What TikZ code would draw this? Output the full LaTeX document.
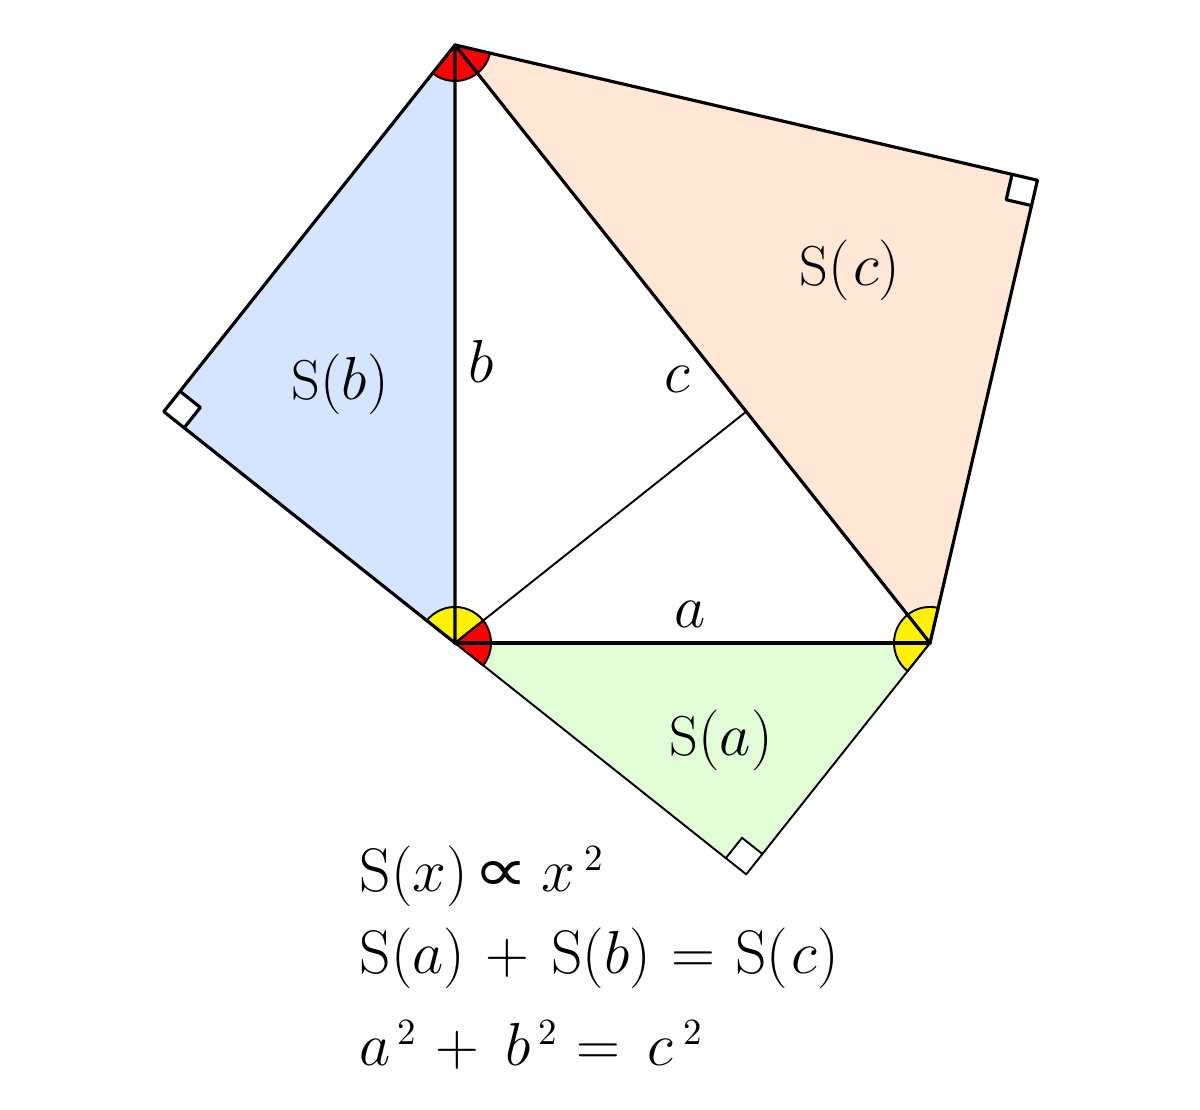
\documentclass[tikz,border=0pt]{standalone}
\usepackage{fontspec}
\usepackage{graphicx}
\newfontfamily\dejavu{DejaVu Sans}
\usetikzlibrary{calc}
\definecolor{fillb}{RGB}{213,229,255}
\definecolor{fillc}{RGB}{255,230,213}
\definecolor{filla}{RGB}{226,252,214}
\newcommand{\sqtwo}[1][2pt]{\mbox{\kern#1\raisebox{6.2pt}{\fontsize{10.5}{12}\selectfont 2}}}
\begin{document}
\begin{tikzpicture}[x=0.01cm,y=0.01cm,
  thickline/.style={line width=0.9pt, line join=round, line cap=round},
  thinline/.style={line width=0.55pt, line join=round, line cap=round},
  fan/.style={draw=black, line width=0.55pt},
  lbl/.style={inner sep=0pt, font=\fontsize{16}{19}\selectfont},
  eqn/.style={inner sep=0pt, anchor=base west, font=\fontsize{17.5}{21}\selectfont}]
\useasboundingbox (0,0) rectangle (1200,1110);
\pgfmathsetmacro\al{atan(475/598)}
\pgfmathsetmacro\be{90-\al}
% main points
\coordinate (T) at (455,1065);
\coordinate (O) at (455,467);
\coordinate (R) at (930,467);
\coordinate (F) at ($(T)!(O)!(R)$);
\coordinate (Q) at ($(O)!2!(F)$);
\coordinate (FL) at ($(O)!(F)!(T)$);
\coordinate (L) at ($(F)!2!(FL)$);
\coordinate (FB) at ($(O)!(F)!(R)$);
\coordinate (B) at ($(F)!2!(FB)$);
% fills
\fill[fillb] (T) -- (L) -- (O) -- cycle;
\fill[fillc] (T) -- (Q) -- (R) -- cycle;
\fill[filla] (O) -- (B) -- (R) -- cycle;
% right-angle marks
\coordinate (L1) at ($(L)!0.26cm!(T)$);
\coordinate (L2) at ($(L)!0.26cm!(O)$);
\coordinate (L3) at ($(L1)+(L2)-(L)$);
\coordinate (Q1) at ($(Q)!0.26cm!(T)$);
\coordinate (Q2) at ($(Q)!0.26cm!(R)$);
\coordinate (Q3) at ($(Q1)+(Q2)-(Q)$);
\coordinate (B1) at ($(B)!0.26cm!(O)$);
\coordinate (B2) at ($(B)!0.26cm!(R)$);
\coordinate (B3) at ($(B1)+(B2)-(B)$);
\fill[white] (L) -- (L1) -- (L3) -- (L2) -- cycle;
\fill[white] (Q) -- (Q1) -- (Q3) -- (Q2) -- cycle;
\fill[white] (B) -- (B1) -- (B3) -- (B2) -- cycle;
\draw[thickline] (L1) -- (L3) -- (L2);
\draw[thickline] (Q1) -- (Q3) -- (Q2);
\draw[thinline] (B1) -- (B3) -- (B2);
% angle fans
\filldraw[fill=red, fan] (T) -- ++({270-\al}:0.36cm) arc[start angle={270-\al}, end angle={270+2*\al}, radius=0.36cm] -- cycle;
\filldraw[fill=yellow, fan] (O) -- ++({\al}:0.36cm) arc[start angle={\al}, end angle={90+\be}, radius=0.36cm] -- cycle;
\filldraw[fill=red, fan] (O) -- ++({-\al}:0.36cm) arc[start angle={-\al}, end angle={\al}, radius=0.36cm] -- cycle;
\filldraw[fill=yellow, fan] (R) -- ++({180-2*\be}:0.36cm) arc[start angle={180-2*\be}, end angle={180+\be}, radius=0.36cm] -- cycle;
% edges
\draw[thinline] (O) -- (B) -- (R);
\draw[thinline] (O) -- (F);
\draw[thickline] (T) -- (L) -- (O) -- cycle;
\draw[thickline] (T) -- (Q) -- (R) -- cycle;
\draw[thickline] (O) -- (R);
% labels
\node[lbl] (Sc) at (850,840) {$\mathrm{S}(\mkern1mu c)$};
\node[lbl] (Sb) at (340,726) {$\mathrm{S}(b)$};
\node[lbl] (Sa) at (721,370) {$\mathrm{S}(a)$};
\node[lbl, anchor=base] (lb) at (481,727) {$b$};
\node[lbl, anchor=base] (lc) at (677,717) {$c$};
\node[lbl, anchor=base] (la) at (690,482) {$a$};
% equations
\node[eqn] (e1) at (359,218) {$\mathrm{S}(x)\mkern-3.5mu\mathrel{\mbox{\dejavu\scalebox{1.25}[1]{∝}}}\mkern-1mu x\sqtwo[2.5pt]$};
\node[eqn] (e2) at (359,136) {$\mathrm{S}(a)\mathbin{\mkern2mu+\mkern2.5mu}\mathrm{S}(b)\mathrel{\mkern1mu=\mkern1mu}\mathrm{S}(\mkern1mu c)$};
\node[eqn] (e3) at (359,44) {$a\sqtwo\mathbin{\mkern1.5mu+\mkern4mu}b\sqtwo\mathrel{\mkern1mu=\mkern3mu}c\sqtwo[3pt]$};
\end{tikzpicture}
\end{document}
